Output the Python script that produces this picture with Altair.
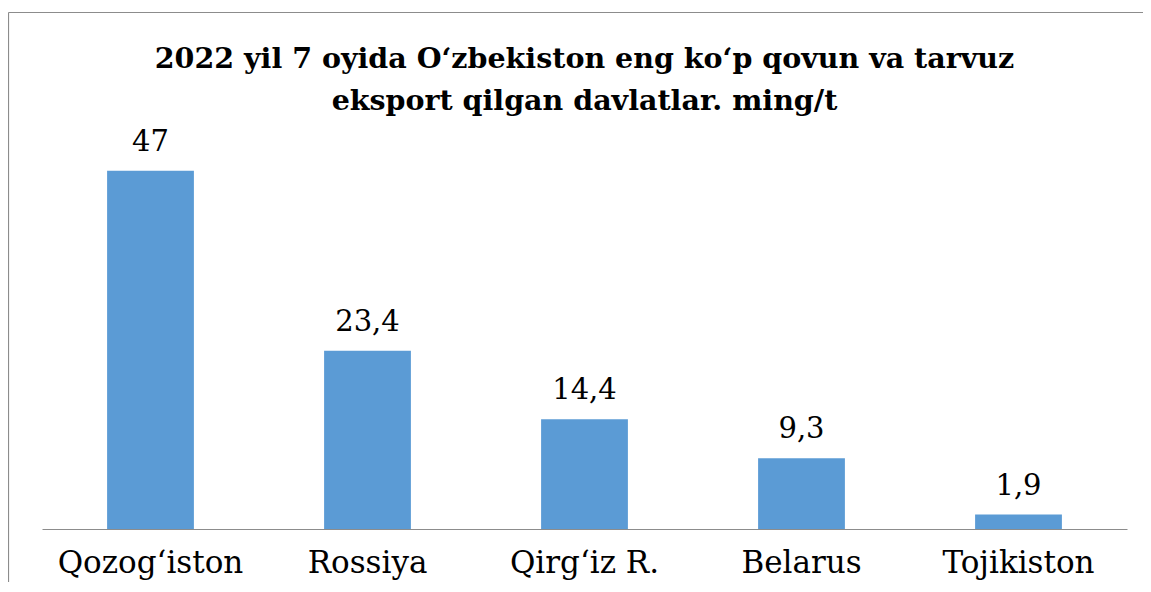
import altair as alt
import pandas as pd

countries = ["Qozog\u2018iston", "Rossiya", "Qirg\u2018iz  R.", "Belarus", "Tojikiston"]
values = [47, 23.4, 14.4, 9.3, 1.9]
value_labels = ["47", "23,4", "14,4", "9,3", "1,9"]

df = pd.DataFrame({"country": countries, "value": values, "label": value_labels})

FONT = "DejaVu Serif"
W, H = 1085, 381

base = alt.Chart(df).encode(
    x=alt.X(
        "country:N",
        sort=countries,
        scale=alt.Scale(paddingInner=0.6, paddingOuter=0.3),
        axis=alt.Axis(
            title=None,
            labelAngle=0,
            ticks=False,
            labelPadding=19,
            labelLimit=400,
            labelFont=FONT,
            labelFontSize=31,
            labelColor="#000000",
            domainColor="#8c8c8c",
            domainWidth=1,
        ),
    ),
    y=alt.Y("value:Q", scale=alt.Scale(domain=[0, 50]), axis=None),
)

bars = base.mark_bar(color="#5B9BD5")
text = base.mark_text(
    baseline="bottom", dy=-14, font=FONT, fontSize=29, color="#000000"
).encode(text="label:N")

frame = pd.DataFrame({"a": [0]})
left_line = alt.Chart(frame).mark_rule(color="#8c8c8c", strokeWidth=1.2).encode(
    x=alt.value(-33.5), y=alt.value(-135.5), y2=alt.value(H + 300)
)
top_line = alt.Chart(frame).mark_rule(color="#8c8c8c", strokeWidth=1.2).encode(
    x=alt.value(-33.5), x2=alt.value(W + 200), y=alt.value(-135.5)
)

chart = alt.layer(left_line, top_line, bars, text).properties(
    width=W,
    height=H,
    autosize=alt.AutoSizeParams(type="none"),
    padding={"left": 34, "top": 140, "right": 16, "bottom": 53},
    title=alt.TitleParams(
        text=["2022 yil 7 oyida O\u2018zbekiston  eng ko\u2018p  qovun  va  tarvuz",
              "eksport  qilgan  davlatlar.  ming/t"],
        font=FONT,
        fontSize=28.5,
        fontWeight="bold",
        color="#000000",
        anchor="middle",
        lineHeight=42,
        offset=-104,
    ),
).configure(background="white").configure_view(stroke=None)

chart.save("out.html", embed_options={"renderer": "svg", "actions": False})
